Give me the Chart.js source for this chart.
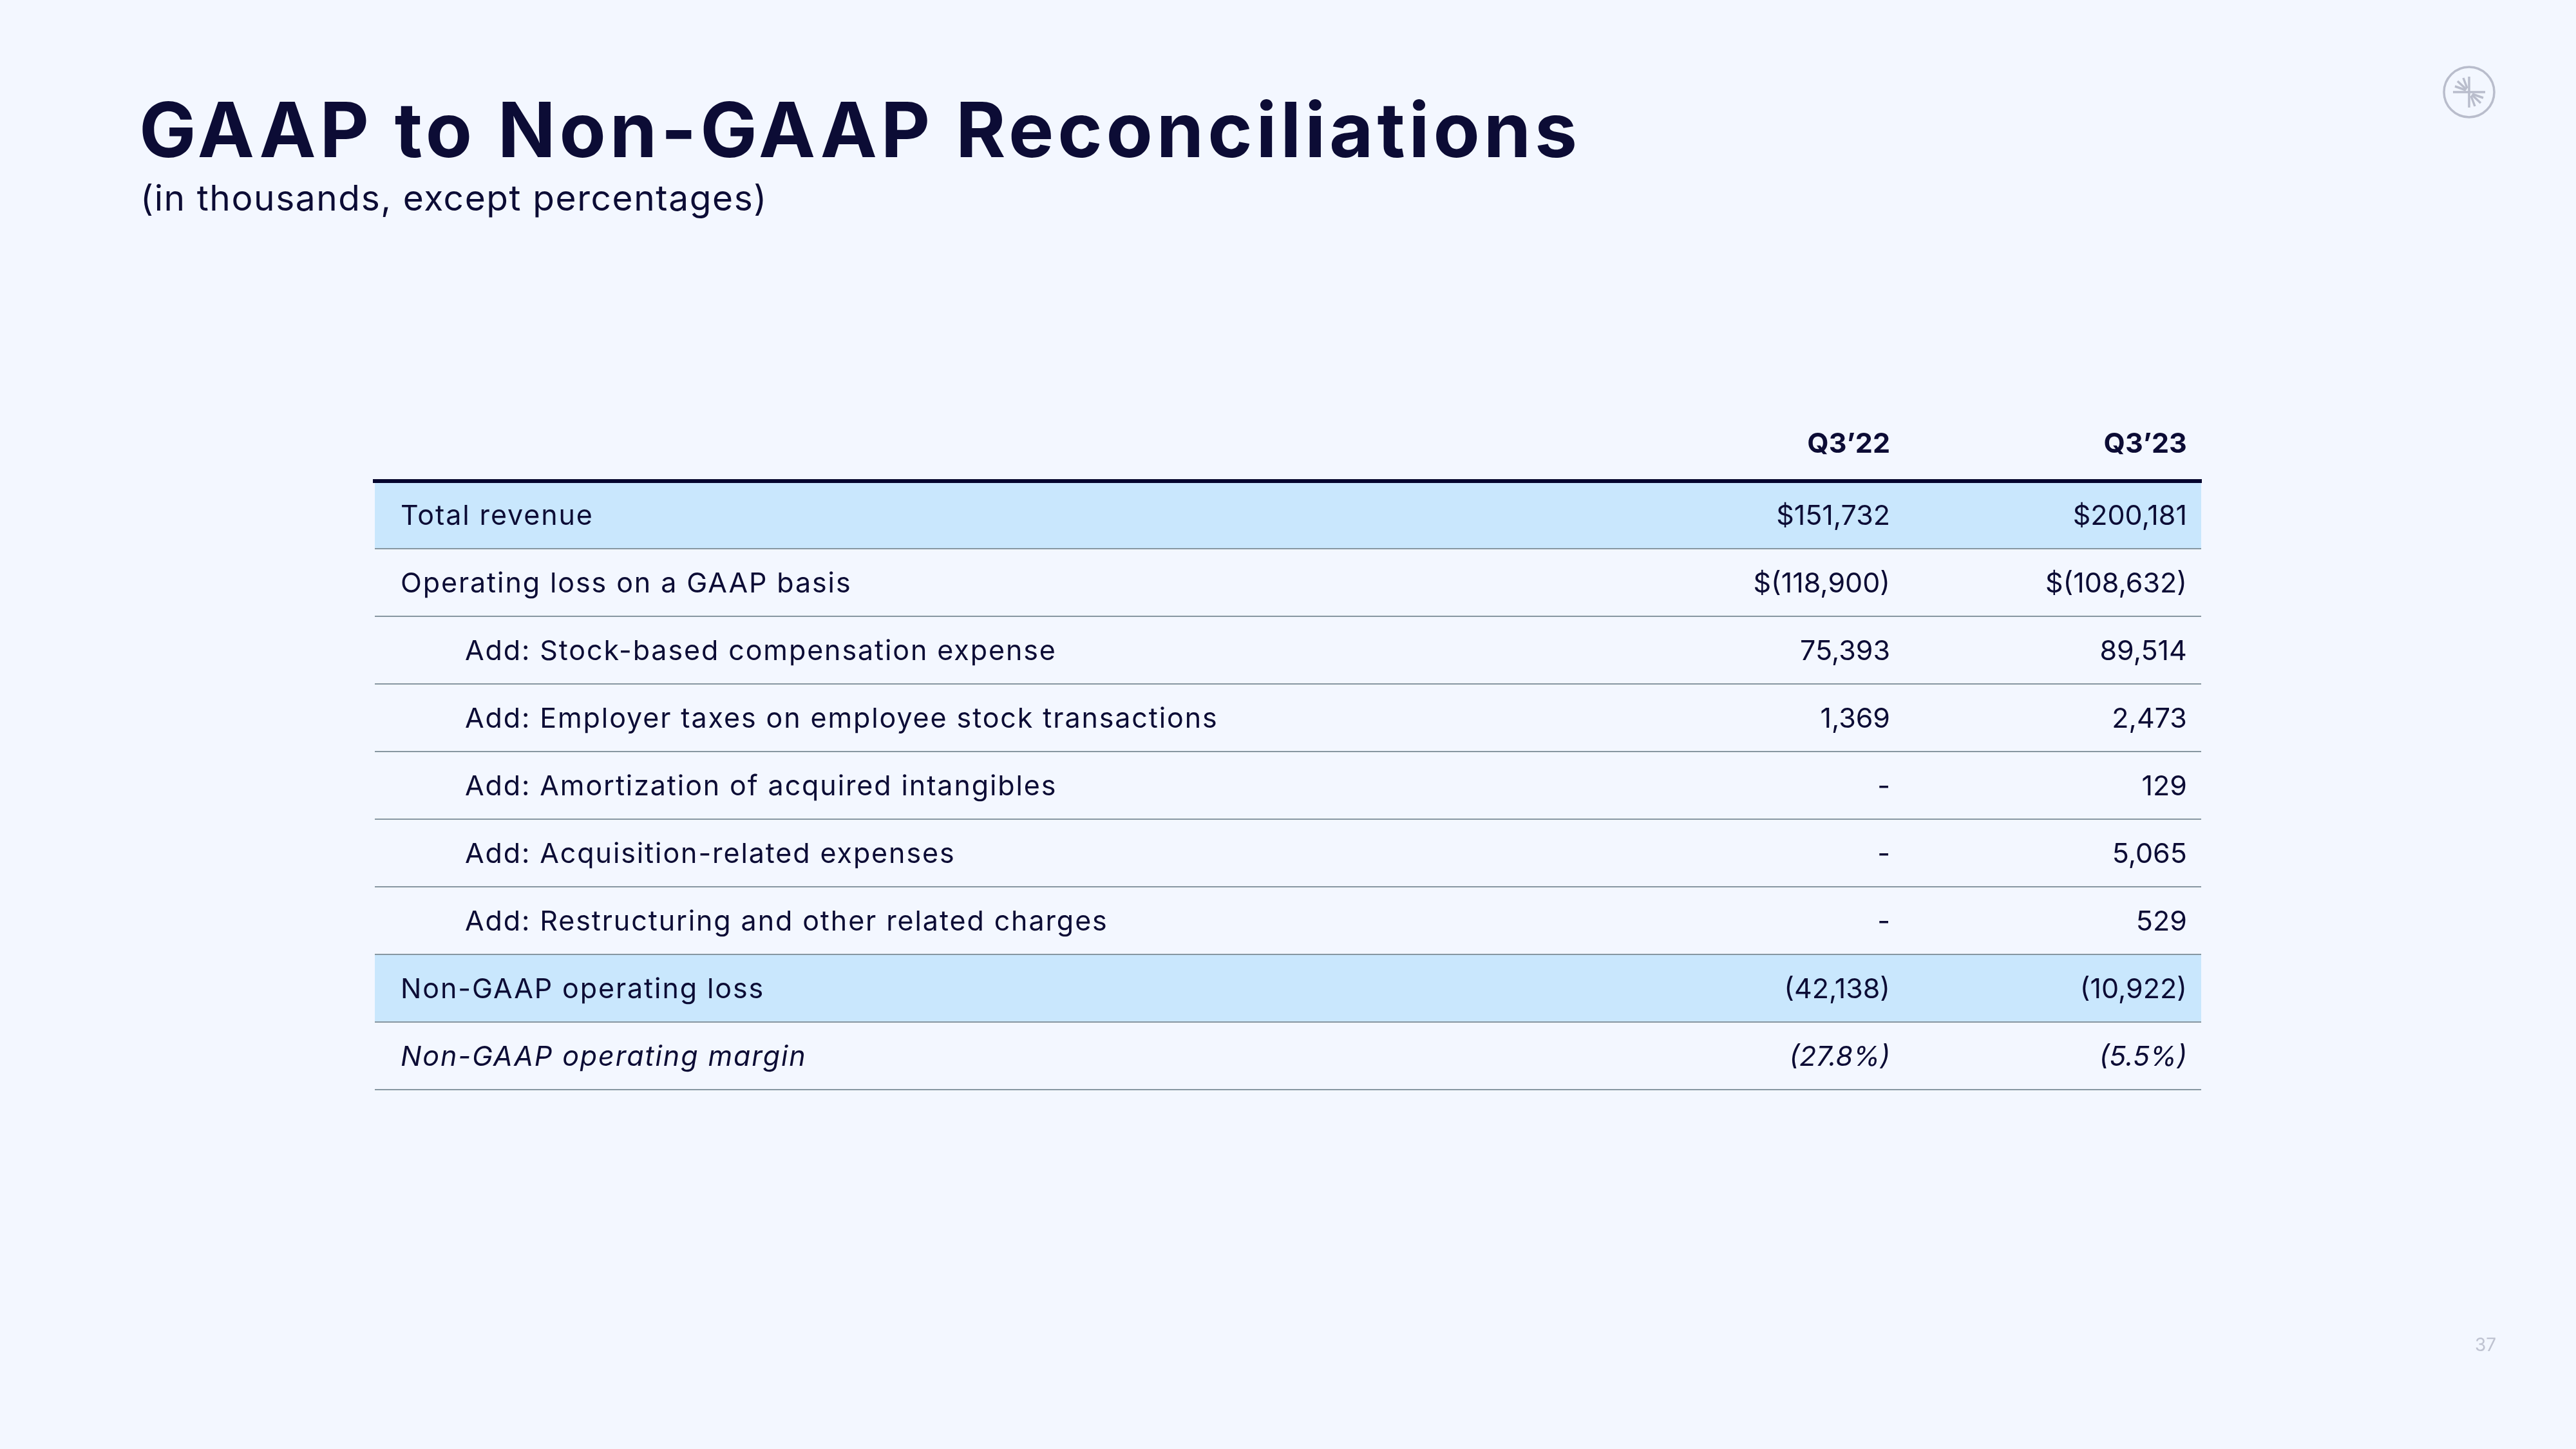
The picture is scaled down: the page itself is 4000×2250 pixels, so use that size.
<!DOCTYPE html>
<html>
<head>
<meta charset="utf-8">
<script src="https://cdn.jsdelivr.net/npm/chart.js@4.4.0/dist/chart.umd.min.js"></script>
<style>
  html, body { margin: 0; padding: 0; background: #f3f7ff; }
  #page { position: relative; width: 4000px; height: 2250px; overflow: hidden; background: #f3f7ff; }
  #chart { position: absolute; left: 0; top: 0; }
  .txt { position: absolute; white-space: nowrap; line-height: 1; font-family: Inter, "Noto Sans", sans-serif; color: #0c0c35; }
  #title { left: 216px; top: 142px; font-size: 118px; font-weight: 700; letter-spacing: 5.9px; }
  #subtitle { left: 218px; top: 280px; font-size: 55px; font-weight: 400; letter-spacing: 1.6px; }
  #pagenum { left: 3843px; top: 2074px; font-size: 28px; color: #bfc3d1; }
  #logo { position: absolute; left: 3786px; top: 95px; }
</style>
</head>
<body>
<div id="page">
  <canvas id="chart" width="4000" height="2250"></canvas>
  <div class="txt" id="title">GAAP to Non-GAAP Reconciliations</div>
  <div class="txt" id="subtitle">(in thousands, except percentages)</div>
  <div class="txt" id="pagenum">37</div>
  <svg id="logo" width="96" height="96" viewBox="-48 -48 96 96">
    <g stroke="#b9bdcc" stroke-width="3.5" fill="none" stroke-linecap="butt">
      <circle cx="0" cy="0" r="39"/>
      <line x1="0" y1="-24" x2="0" y2="24"/>
      <line x1="-25" y1="0" x2="25" y2="0"/>
      <line x1="-4" y1="-4" x2="-18" y2="-17"/>
      <line x1="-3" y1="-6" x2="-9" y2="-22"/>
      <line x1="-5" y1="-3" x2="-22" y2="-9"/>
      <line x1="4" y1="4" x2="18" y2="17"/>
      <line x1="3" y1="6" x2="9" y2="22"/>
      <line x1="5" y1="3" x2="22" y2="9"/>
    </g>
  </svg>
</div>
<script>
// ---------------- data ----------------
const rowLabels = [
  "Total revenue",
  "Operating loss on a GAAP basis",
  "Add: Stock-based compensation expense",
  "Add: Employer taxes on employee stock transactions",
  "Add: Amortization of acquired intangibles",
  "Add: Acquisition-related expenses",
  "Add: Restructuring and other related charges",
  "Non-GAAP operating loss",
  "Non-GAAP operating margin"
];
// row kind: what each line of the reconciliation is
const rowKinds = ["revenue", "gaap", "add", "add", "add", "add", "add", "nongaap", "margin"];
const columnHeaders = ["Q3’22", "Q3’23"];
const q322Values = [151732, -118900, 75393, 1369, null, null, null, -42138, -27.8];
const q323Values = [200181, -108632, 89514, 2473, 129, 5065, 529, -10922, -5.5];

// ---------------- formatting / styles ----------------
const TEXT = "#0c0c35";
const FONT = "Inter, 'Noto Sans', sans-serif";
function fmt(v, kind) {
  if (v === null || v === undefined) return "-";
  if (kind === "margin") {
    const s = Math.abs(v).toFixed(1) + "%";
    return v < 0 ? "(" + s + ")" : s;
  }
  const s = Math.abs(v).toLocaleString("en-US");
  const core = v < 0 ? "(" + s + ")" : s;
  return (kind === "revenue" || kind === "gaap") ? "$" + core : core;
}
const seriesValues = [q322Values, q323Values];
const highlightKinds = ["revenue", "nongaap"];
const highlightSpans = rowKinds.map(k => highlightKinds.includes(k) ? [0, 1] : null);

const tableOpts = {
  colAnchors: [0.8297, 0.9922],   // x-scale values of the right edge of each value column
  labelInset: 40,
  indentInset: 140,
  fontSize: 43,
  capRatio: 0.727,
  headerGap: 44,
  labelSpacing: "1.9px"
};

const tableText = {
  id: "tableText",
  afterDraw(chart) {
    const { ctx, scales: { x, y }, chartArea } = chart;
    const o = tableOpts;
    const cap = o.fontSize * o.capRatio;
    ctx.save();
    ctx.fillStyle = TEXT;
    ctx.textBaseline = "alphabetic";
    // header
    ctx.font = `700 ${o.fontSize}px ${FONT}`;
    ctx.textAlign = "right";
    columnHeaders.forEach((h, c) => {
      ctx.fillText(h, x.getPixelForValue(o.colAnchors[c]), chartArea.top - o.headerGap);
    });
    // rows
    rowLabels.forEach((lab, i) => {
      const kind = rowKinds[i];
      const italic = kind === "margin" ? "italic " : "";
      const yb = y.getPixelForValue(i) + cap / 2;
      ctx.font = `${italic}400 ${o.fontSize}px ${FONT}`;
      ctx.textAlign = "left";
      if ("letterSpacing" in ctx) ctx.letterSpacing = o.labelSpacing;
      ctx.fillText(lab, chartArea.left + (kind === "add" ? o.indentInset : o.labelInset), yb);
      if ("letterSpacing" in ctx) ctx.letterSpacing = "0px";
      ctx.textAlign = "right";
      seriesValues.forEach((vals, c) => {
        ctx.fillText(fmt(vals[i], kind), x.getPixelForValue(o.colAnchors[c]), yb);
      });
    });
    ctx.restore();
  }
};

function build() {
  new Chart(document.getElementById("chart"), {
    type: "bar",
    data: {
      labels: rowLabels,
      datasets: [{
        data: highlightSpans,
        backgroundColor: "#c9e7fd",
        borderWidth: 0,
        barPercentage: 1,
        categoryPercentage: 1,
        borderSkipped: false
      }]
    },
    options: {
      indexAxis: "y",
      responsive: false,
      animation: false,
      devicePixelRatio: 1,
      layout: { padding: { left: 582, right: 582, top: 747, bottom: 558 } },
      plugins: { legend: { display: false }, tooltip: { enabled: false }, title: { display: false } },
      scales: {
        x: {
          type: "linear", position: "top", min: 0, max: 1,
          grid: { display: false, drawTicks: false },
          ticks: { display: false, padding: 0 },
          border: { display: true, color: "#05052e", width: 6, z: 2 }
        },
        y: {
          type: "category", offset: true,
          grid: {
            display: true, offset: true, drawTicks: false, lineWidth: 2, z: 1,
            color: c => c.index === 0 ? "rgba(0,0,0,0)" : "#8797a1"
          },
          ticks: { display: false, padding: 0 },
          border: { display: false }
        }
      }
    },
    plugins: [tableText]
  });
}
if (document.fonts && document.fonts.load) {
  Promise.all([
    document.fonts.load(`400 43px Inter`),
    document.fonts.load(`700 43px Inter`),
    document.fonts.load(`italic 400 43px Inter`)
  ]).then(build, build);
} else build();
</script>
</body>
</html>
